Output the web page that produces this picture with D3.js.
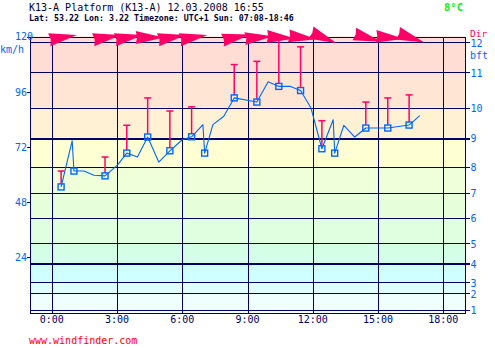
<!DOCTYPE html>
<html>
<head>
<meta charset="utf-8">
<script src="https://cdn.jsdelivr.net/npm/d3@7"></script>
<style>
  html, body { margin: 0; padding: 0; background: #ffffff; }
  svg { display: block; }
  text { font-family: "DejaVu Sans Mono", "Liberation Mono", monospace; }
</style>
</head>
<body>
<div id="chart"></div>
<script>
// Station header
const title = "K13-A Platform (K13-A) 12.03.2008 16:55";
const subtitle = "Lat: 53.22 Lon: 3.22 Timezone: UTC+1 Sun: 07:08-18:46";
const temperature = "8°C";
const footer = "www.windfinder.com";

// Axes
const hourTicks = [0, 3, 6, 9, 12, 15, 18];
const hourTickLabels = ["0:00", "3:00", "6:00", "9:00", "12:00", "15:00", "18:00"];
const kmhTicks = [24, 48, 72, 96, 120];
const bftLevels = [1.1, 8.3, 13.1, 21.4, 30.1, 41.2, 52.1, 63.4, 76, 89.1, 104.4, 117.5]; // km/h at Beaufort 1..12
const bftLabels = ["1", "2", "3", "4", "5", "6", "7", "8", "9", "10", "11", "12"];
const bandColors = ["#f0ffff", "#eefffe", "#e0ffff", "#d0ffff", "#d4ffe6", "#dfffe0",
                    "#e6ffda", "#efffda", "#ffffd4", "#fff2d4", "#ffe6d4", "#ffdcd4", "#ffdcd4"];

// Average wind (km/h) through the day
const hours = [0.43, 0.94, 1.02, 1.48, 1.94, 2.45, 3.02, 3.45, 3.94, 4.41, 4.92, 5.43, 6.0, 6.43,
               6.95, 7.03, 7.41, 7.91, 8.39, 9.43, 9.95, 10.44, 10.98, 11.44, 11.92, 12.42, 12.94,
               13.01, 13.43, 13.93, 14.44, 15.45, 16.43, 16.92];
const avgKmh = [54.6, 74.7, 61.5, 61.5, 59.7, 59.4, 64.1, 69.3, 67.6, 76.3, 65.4, 70.3, 75.1, 76.4,
                81.7, 69.3, 81.7, 85.3, 93.3, 91.5, 100.3, 98.3, 98.3, 96.5, 88.9, 71.2, 83.8,
                69.3, 81.4, 76.3, 80.2, 80.2, 81.5, 85.6];

// Observations: average, gust and direction
const obsHours = [0.43, 1.02, 2.45, 3.45, 4.41, 5.43, 6.43, 7.03, 8.39, 9.43, 10.44, 11.44, 12.42, 13.01, 14.44, 15.45, 16.43];
const obsAvg   = [54.6, 61.5, 59.4, 69.3, 76.3, 70.3, 76.4, 69.3, 93.3, 91.5, 98.3, 96.5, 71.2, 69.3, 80.2, 80.2, 81.5];
const obsGust  = [61.5, null, 67.6, 81.4, 93.3, 87.6, 89.4, null, 107.8, 109.2, 119.5, 115.5, 83.4, null, 91.5, 93.3, 94.6];
const obsDir   = [260, null, 260, 260, 270, 260, 260, null, 258, 265, 274, 277, 293, null, 286, 275, 289];

const W = 495, H = 348;
const navy = "#000066", blue = "#0066ff", pink = "#ff0066";

const svg = d3.select("#chart").append("svg").attr("width", W).attr("height", H);

const x = d3.scaleLinear().domain([-1, 19]).range([30, 465]);
const y = d3.scaleLinear().domain([0, 120]).range([312.5, 36.5]);
const px = v => Math.round(v) + 0.5;

// Header
svg.append("text").attr("x", 29).attr("y", 11).attr("font-size", 10).attr("fill", "#000033").text(title);
svg.append("text").attr("x", 29).attr("y", 20.5).attr("font-size", 8.3).attr("font-weight", "bold").attr("fill", "#000033").text(subtitle);
svg.append("text").attr("x", 444).attr("y", 11).attr("font-size", 10.5).attr("font-weight", "bold").attr("fill", "#11ee11").text(temperature);

// Beaufort background bands
const bandEdges = [0, ...bftLevels, 120];
svg.append("g").selectAll("rect").data(d3.range(bandEdges.length - 1)).join("rect")
  .attr("x", x(-1)).attr("width", x(19) - x(-1))
  .attr("y", i => y(bandEdges[i + 1])).attr("height", i => y(bandEdges[i]) - y(bandEdges[i + 1]))
  .attr("fill", i => bandColors[i]);

// Grid
const grid = svg.append("g").attr("shape-rendering", "crispEdges").attr("stroke", navy);
grid.selectAll("line.bft").data(bftLevels).join("line").attr("class", "bft")
  .attr("x1", x(-1)).attr("x2", x(19) + 5)
  .attr("y1", d => px(y(d))).attr("y2", d => px(y(d)))
  .attr("stroke-width", (d, i) => (i === 3 || i === 8) ? 2 : 1);
grid.selectAll("line.hr").data(hourTicks).join("line").attr("class", "hr")
  .attr("x1", d => px(x(d))).attr("x2", d => px(x(d)))
  .attr("y1", y(120)).attr("y2", y(0) + 1);
grid.selectAll("line.kmh").data(kmhTicks).join("line").attr("class", "kmh")
  .attr("x1", x(-1) - 3).attr("x2", x(-1))
  .attr("y1", d => px(y(d))).attr("y2", d => px(y(d)));
grid.append("rect").attr("x", px(x(-1))).attr("y", px(y(120)))
  .attr("width", Math.round(x(19) - x(-1))).attr("height", Math.round(y(0) - y(120)))
  .attr("fill", "none");

// Left axis labels (km/h)
svg.append("g").selectAll("text").data(kmhTicks).join("text")
  .attr("x", 15).attr("y", d => y(d) + 3.8)
  .attr("font-size", 10).attr("fill", blue).text(d => d);
svg.append("text").attr("x", 0).attr("y", 53).attr("font-size", 10).attr("fill", blue).text("km/h");

// Right axis labels (Beaufort)
svg.append("g").selectAll("text").data(bftLevels).join("text")
  .attr("x", 470.5).attr("y", (d, i) => y(d) + (i === 11 ? 5.2 : 4.4))
  .attr("font-size", 10).attr("fill", blue).text((d, i) => bftLabels[i]);
svg.append("text").attr("x", 470).attr("y", 58.5).attr("font-size", 10).attr("fill", blue).text("bft");
svg.append("text").attr("x", 470).attr("y", 36.5).attr("font-size", 9.5).attr("fill", pink).text("Dir");

// Time axis labels
svg.append("g").selectAll("text").data(hourTicks).join("text")
  .attr("x", d => x(d)).attr("y", 323).attr("text-anchor", "middle")
  .attr("font-size", 10).attr("fill", navy).text((d, i) => hourTickLabels[i]);

svg.append("text").attr("x", 29).attr("y", 344).attr("font-size", 10).attr("fill", "#ff0000").text(footer);

// Average wind line
const line = d3.line().x(i => x(hours[i])).y(i => y(avgKmh[i]));
svg.append("path").attr("d", line(d3.range(hours.length)))
  .attr("fill", "none").attr("stroke", blue).attr("stroke-width", 1.1).attr("stroke-linejoin", "round");

// Gusts
const obsIdx = d3.range(obsHours.length);
const gustIdx = obsIdx.filter(i => obsGust[i] != null);
const gusts = svg.append("g").attr("stroke", pink).attr("stroke-width", 1.5);
gusts.selectAll("line.bar").data(gustIdx).join("line").attr("class", "bar")
  .attr("x1", i => x(obsHours[i])).attr("x2", i => x(obsHours[i]))
  .attr("y1", i => y(obsAvg[i]) - 3).attr("y2", i => y(obsGust[i]));
gusts.selectAll("line.cap").data(gustIdx).join("line").attr("class", "cap")
  .attr("x1", i => x(obsHours[i]) - 3.5).attr("x2", i => x(obsHours[i]) + 3.5)
  .attr("y1", i => y(obsGust[i])).attr("y2", i => y(obsGust[i]));

// Observation markers
svg.append("g").selectAll("rect").data(obsIdx).join("rect")
  .attr("x", i => x(obsHours[i]) - 3).attr("y", i => y(obsAvg[i]) - 3)
  .attr("width", 6).attr("height", 6)
  .attr("fill", "none").attr("stroke", blue).attr("stroke-width", 1.4);

// Direction arrows along the top edge
const dirIdx = obsIdx.filter(i => obsDir[i] != null);
svg.append("g").selectAll("path").data(dirIdx).join("path")
  .attr("d", "M15,0 L-13,-6.5 L-11.5,0 L-13,6.5 Z")
  .attr("transform", i => `translate(${x(obsHours[i]) + 1},37.5) rotate(${obsDir[i] - 270})`)
  .attr("fill", pink);
</script>
</body>
</html>
